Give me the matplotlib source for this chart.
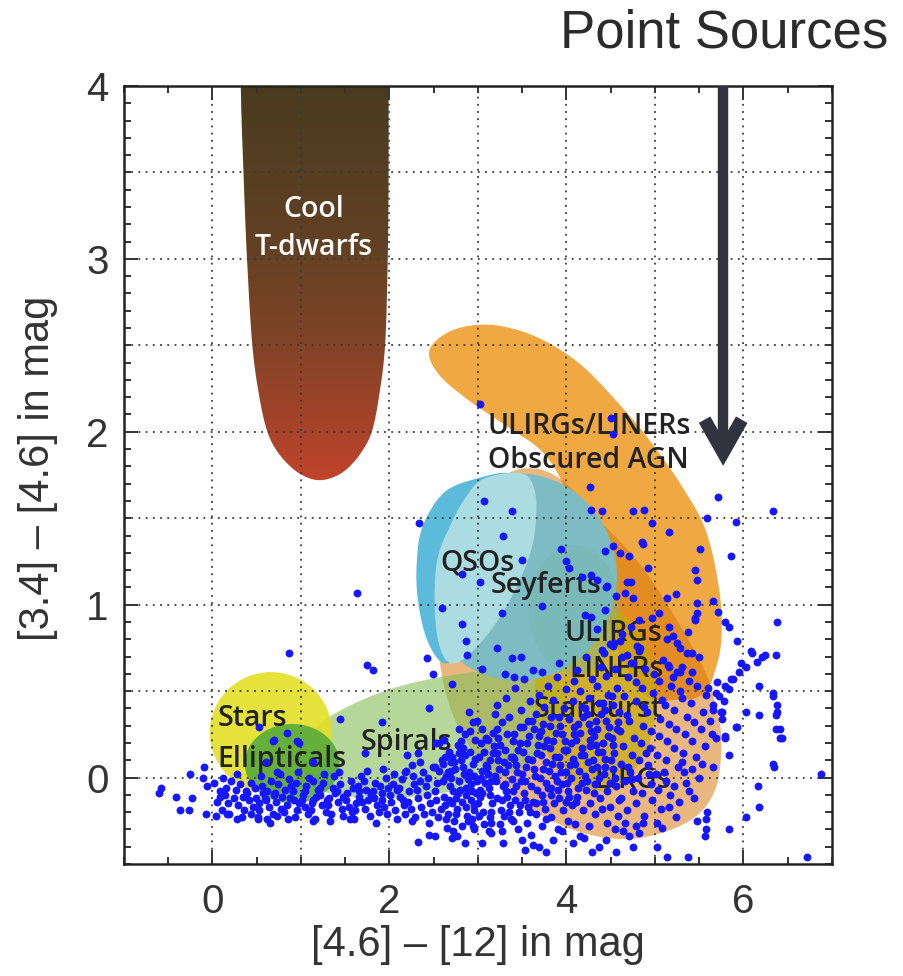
import numpy as np
import matplotlib
matplotlib.use("Agg")
import matplotlib.pyplot as plt
from matplotlib.patches import Ellipse, Polygon
from matplotlib.colors import LinearSegmentedColormap
from matplotlib.ticker import MultipleLocator

# ---- region outlines (data coords) ----
band_x = [2.45, 2.68, 3.05, 3.44, 3.81, 4.18, 4.56, 4.94, 5.31, 5.58, 5.73, 5.75, 5.68, 5.56, 5.28, 4.82, 4.37, 4.03, 3.75, 3.36, 2.90, 2.56]
band_y = [2.47, 2.58, 2.62, 2.59, 2.51, 2.38, 2.18, 1.95, 1.68, 1.42, 1.07, 0.80, 0.62, 0.49, 0.45, 0.51, 1.03, 1.61, 1.87, 2.02, 2.18, 2.33]

tan_x = [3.95, 4.37, 4.82, 5.20, 5.54, 5.67, 5.75, 5.68, 5.39, 4.82, 4.26, 3.69, 3.19, 2.79, 2.60, 2.54, 2.62, 2.85, 3.24, 3.58]
tan_y = [1.72, 1.49, 1.24, 0.95, 0.64, 0.45, 0.22, -0.07, -0.25, -0.35, -0.33, -0.21, -0.01, 0.28, 0.57, 0.91, 1.26, 1.55, 1.73, 1.79]

spiral_x = [0.98, 1.15, 1.49, 2.00, 2.56, 3.13, 3.58, 3.86, 3.98, 3.86, 3.47, 2.79, 2.00, 1.32, 1.04]
spiral_y = [0.10, 0.28, 0.40, 0.51, 0.58, 0.62, 0.64, 0.58, 0.45, 0.22, 0.05, -0.07, -0.12, -0.09, -0.01]

qso_x = [2.62, 2.99, 3.36, 3.53, 3.47, 3.24, 2.90, 2.63, 2.43, 2.32, 2.31, 2.38]
qso_y = [1.65, 1.73, 1.76, 1.66, 1.38, 1.03, 0.77, 0.66, 0.79, 1.03, 1.26, 1.46]

lens_x = [3.07, 3.49, 3.64, 3.65, 3.56, 3.30, 2.96, 2.70, 2.56, 2.51, 2.54, 2.68, 2.86]
lens_y = [1.73, 1.76, 1.66, 1.46, 1.25, 0.97, 0.74, 0.66, 0.77, 1.00, 1.26, 1.45, 1.62]

tdw_x = [0.32, 0.35, 0.39, 0.45, 0.53, 0.62, 0.74, 0.90, 1.05, 1.21, 1.38, 1.53, 1.68, 1.80, 1.88, 1.95, 1.98, 1.99, 1.99, 1.99, 0.32]
tdw_y = [4.00, 3.50, 3.00, 2.50, 2.20, 2.00, 1.88, 1.79, 1.74, 1.72, 1.74, 1.79, 1.88, 2.00, 2.20, 2.50, 3.00, 3.50, 4.00, 4.60, 4.60]

# ---- labels ----
labels = [("ULIRGs/LINERs", 3.11, 1.99), ("Obscured AGN", 3.11, 1.79),
          ("QSOs", 2.58, 1.20), ("Seyferts", 3.14, 1.07),
          ("ULIRGs", 3.98, 0.79), ("LINERs", 4.03, 0.58),
          ("Starburst", 3.63, 0.35), ("LIRGs", 4.31, -0.06),
          ("Spirals", 1.67, 0.16), ("Stars", 0.06, 0.30),
          ("Ellipticals", 0.05, 0.06)]

# ---- point sources ----
left_tail = [(-0.60, -0.09), (-0.58, -0.06), (-0.41, -0.11), (-0.37, -0.19), (-0.26, -0.19), (-0.23, -0.12),
             (-0.25, 0.02), (-0.10, 0.06), (-0.11, 0.00), (-0.07, -0.21), (-0.06, -0.05)]

band_pts = [
    (0.02, -0.03), (0.05, -0.14), (0.08, -0.08), (0.11, -0.19), (0.04, -0.22), (0.12, 0.0), (0.09, -0.11),
    (0.15, -0.06), (0.18, -0.15), (0.21, -0.02), (0.14, -0.10), (0.24, -0.12), (0.19, -0.21), (0.26, -0.07),
    (0.29, -0.16), (0.31, -0.04), (0.34, -0.11), (0.36, -0.19), (0.28, 0.02), (0.38, -0.08), (0.33, -0.23),
    (0.41, -0.13), (0.43, -0.03), (0.46, -0.17), (0.39, -0.09), (0.48, -0.06), (0.44, -0.21), (0.49, -0.12),
    (0.52, -0.15), (0.55, 0.01), (0.57, -0.09), (0.53, -0.19), (0.59, -0.12), (0.56, -0.05), (0.51, -0.24),
    (0.62, -0.08), (0.64, -0.17), (0.66, -0.02), (0.61, -0.13), (0.68, -0.21), (0.69, -0.10), (0.65, -0.26),
    (0.72, -0.14), (0.74, -0.04), (0.77, -0.18), (0.71, -0.09), (0.79, -0.11), (0.76, 0.02), (0.73, -0.22),
    (0.82, -0.07), (0.84, -0.16), (0.86, -0.01), (0.81, -0.20), (0.88, -0.12), (0.89, -0.05), (0.85, -0.24),
    (0.92, -0.13), (0.94, -0.03), (0.96, -0.19), (0.91, -0.08), (0.98, -0.15), (0.97, 0.03), (0.93, -0.23),
    (1.02, -0.10), (1.04, -0.17), (1.06, -0.05), (1.01, -0.13), (1.08, -0.21), (1.09, 0.0), (1.05, -0.08),
    (1.12, -0.15), (1.14, -0.02), (1.17, -0.11), (1.11, -0.19), (1.19, -0.07), (1.16, -0.24), (1.13, -0.13),
    (1.22, -0.06), (1.24, -0.16), (1.26, 0.02), (1.21, -0.10), (1.28, -0.20), (1.29, -0.13), (1.25, -0.03),
    (1.32, -0.12), (1.34, -0.21), (1.36, -0.06), (1.31, -0.16), (1.38, -0.09), (1.37, 0.01), (1.33, -0.25),
    (1.42, -0.14), (1.44, -0.04), (1.46, -0.18), (1.41, -0.08), (1.48, -0.11), (1.47, -0.22), (1.43, 0.03),
    (1.52, -0.09), (1.54, -0.17), (1.56, -0.02), (1.51, -0.13), (1.58, -0.20), (1.59, -0.06), (1.55, -0.24),
    (1.62, -0.15), (1.64, -0.05), (1.66, -0.11), (1.61, -0.19), (1.68, 0.01), (1.69, -0.14), (1.65, -0.08),
    (1.72, -0.18), (1.74, -0.07), (1.76, -0.13), (1.71, -0.02), (1.78, -0.22), (1.79, -0.10), (1.75, 0.04),
    (1.82, -0.12), (1.84, -0.03), (1.86, -0.16), (1.81, -0.08), (1.88, -0.20), (1.89, -0.05), (1.85, -0.26),
    (1.92, -0.09), (1.94, -0.17), (1.96, 0.0), (1.91, -0.13), (1.98, -0.06), (1.97, -0.21), (1.93, 0.05),
    (2.02, -0.14), (2.04, -0.04), (2.06, -0.19), (2.01, -0.10), (2.08, -0.07), (2.09, -0.24), (2.05, 0.02),
    (2.12, -0.11), (2.14, -0.01), (2.16, -0.16), (2.11, -0.06), (2.18, -0.21), (2.19, 0.04), (2.15, -0.13),
    (2.22, -0.08), (2.24, -0.18), (2.26, 0.01), (2.21, -0.14), (2.28, -0.04), (2.29, -0.23), (2.25, 0.07),
    (2.32, -0.12), (2.34, -0.02), (2.36, -0.17), (2.31, -0.07), (2.38, 0.03), (2.39, -0.21), (2.35, 0.09),
    (2.42, -0.10), (2.44, 0.0), (2.46, -0.15), (2.41, -0.05), (2.48, -0.20), (2.49, 0.06), (2.45, -0.26),
    (2.52, -0.13), (2.54, -0.03), (2.56, 0.04), (2.51, -0.08), (2.58, -0.18), (2.59, 0.10), (2.55, -0.23)]

cloud_pts = [
    (2.62, -0.11), (2.64, 0.01), (2.66, -0.21), (2.61, 0.08), (2.68, -0.05), (2.63, -0.16), (2.67, 0.15), (2.65, -0.29), (2.69, 0.04), (2.62, 0.22),
    (2.72, -0.08), (2.74, 0.05), (2.76, -0.18), (2.71, 0.12), (2.78, -0.02), (2.73, -0.25), (2.77, 0.19), (2.75, -0.12), (2.79, 0.28), (2.72, -0.31),
    (2.82, -0.14), (2.84, 0.02), (2.86, -0.06), (2.81, 0.10), (2.88, -0.22), (2.83, 0.17), (2.87, -0.10), (2.85, 0.25), (2.89, -0.01), (2.82, -0.28),
    (2.92, -0.04), (2.94, 0.08), (2.96, -0.16), (2.91, 0.15), (2.98, -0.09), (2.93, -0.24), (2.97, 0.22), (2.95, 0.01), (2.99, 0.33), (2.92, -0.13),
    (3.02, -0.11), (3.04, 0.04), (3.06, -0.20), (3.01, 0.12), (3.08, -0.03), (3.03, 0.20), (3.07, -0.27), (3.05, 0.28), (3.09, 0.07), (3.02, -0.07),
    (3.12, -0.06), (3.14, 0.10), (3.16, -0.15), (3.11, 0.02), (3.18, 0.18), (3.13, -0.23), (3.17, 0.26), (3.15, -0.02), (3.19, 0.37), (3.12, -0.31),
    (3.22, -0.12), (3.24, 0.05), (3.26, -0.19), (3.21, 0.14), (3.28, -0.05), (3.23, 0.23), (3.27, 0.32), (3.25, -0.27), (3.29, 0.09), (3.22, 0.42),
    (3.32, -0.08), (3.34, 0.07), (3.36, -0.16), (3.31, 0.16), (3.38, -0.01), (3.33, 0.25), (3.37, -0.24), (3.35, 0.35), (3.39, 0.12), (3.32, 0.46),
    (3.42, -0.13), (3.44, 0.03), (3.46, -0.20), (3.41, 0.11), (3.48, 0.20), (3.43, -0.05), (3.47, 0.29), (3.45, -0.30), (3.49, 0.39), (3.42, 0.52),
    (3.52, -0.09), (3.54, 0.06), (3.56, -0.17), (3.51, 0.15), (3.58, 0.24), (3.53, -0.02), (3.57, 0.33), (3.55, -0.26), (3.59, 0.44), (3.52, 0.57),
    (3.62, -0.14), (3.64, 0.01), (3.66, -0.21), (3.61, 0.10), (3.68, 0.19), (3.63, 0.28), (3.67, -0.07), (3.65, 0.37), (3.69, 0.48), (3.62, 0.62),
    (3.72, -0.10), (3.74, 0.05), (3.76, -0.18), (3.71, 0.13), (3.78, 0.22), (3.73, 0.31), (3.77, -0.03), (3.75, 0.41), (3.79, 0.53), (3.72, -0.28),
    (3.82, -0.06), (3.84, 0.08), (3.86, -0.15), (3.81, 0.17), (3.88, 0.26), (3.83, 0.35), (3.87, 0.01), (3.85, 0.45), (3.89, 0.58), (3.82, -0.23),
    (3.92, -0.12), (3.94, 0.03), (3.96, -0.19), (3.91, 0.12), (3.98, 0.21), (3.93, 0.30), (3.97, 0.40), (3.95, -0.04), (3.99, 0.51), (3.92, 0.66),
    (4.02, -0.08), (4.04, 0.07), (4.06, -0.16), (4.01, 0.16), (4.08, 0.25), (4.03, 0.34), (4.07, 0.44), (4.05, 0.00), (4.09, 0.56), (4.02, -0.25),
    (4.12, -0.11), (4.14, 0.04), (4.16, 0.13), (4.11, 0.22), (4.18, -0.03), (4.13, 0.31), (4.17, 0.41), (4.15, 0.50), (4.19, -0.19), (4.12, 0.62),
    (4.22, -0.07), (4.24, 0.09), (4.26, 0.18), (4.21, 0.01), (4.28, 0.27), (4.23, 0.37), (4.27, -0.15), (4.25, 0.46), (4.29, 0.57), (4.22, 0.70),
    (4.32, -0.04), (4.34, 0.06), (4.36, 0.15), (4.31, 0.24), (4.38, -0.12), (4.33, 0.33), (4.37, 0.43), (4.35, 0.53), (4.39, 0.64), (4.32, -0.21),
    (4.42, 0.02), (4.44, 0.11), (4.46, -0.08), (4.41, 0.20), (4.48, 0.29), (4.43, 0.39), (4.47, 0.48), (4.45, 0.59), (4.49, -0.17), (4.42, 0.72),
    (4.52, 0.05), (4.54, 0.14), (4.56, -0.05), (4.51, 0.23), (4.58, 0.32), (4.53, 0.42), (4.57, 0.52), (4.55, 0.63), (4.59, -0.13), (4.52, 0.76),
    (4.62, 0.08), (4.64, 0.18), (4.66, -0.02), (4.61, 0.27), (4.68, 0.36), (4.65, 0.47), (4.69, 0.58), (4.63, 0.70),
    (4.72, 0.03), (4.74, 0.13), (4.76, 0.23), (4.71, 0.33), (4.78, 0.44), (4.75, -0.08), (4.79, 0.55), (4.73, 0.66),
    (4.82, 0.10), (4.84, 0.20), (4.86, 0.30), (4.81, 0.00), (4.88, 0.41), (4.85, 0.52), (4.89, 0.63), (4.83, 0.75),
    (4.92, 0.07), (4.94, 0.17), (4.96, 0.27), (4.91, 0.38), (4.98, 0.49), (4.95, -0.04), (4.99, 0.60),
    (5.02, 0.13), (5.04, 0.24), (5.06, 0.34), (5.01, 0.02), (5.08, 0.45), (5.05, 0.56), (5.09, 0.68),
    (5.12, 0.10), (5.14, 0.21), (5.16, 0.31), (5.11, 0.42), (5.18, 0.53), (5.15, 0.65),
    (5.22, 0.17), (5.24, 0.28), (5.26, 0.06), (5.21, 0.39), (5.28, 0.50), (5.25, 0.61),
    (5.32, 0.14), (5.34, 0.25), (5.36, 0.35), (5.31, 0.46), (5.38, 0.56),
    (5.42, 0.21), (5.44, 0.32), (5.46, 0.12), (5.41, 0.43), (5.48, 0.53),
    (5.52, 0.28), (5.54, 0.38), (5.56, 0.18), (5.58, 0.48), (5.62, 0.33), (5.66, 0.42), (5.64, 0.25)]

core_pts = [
    (2.60, -0.02), (2.63, 0.12), (2.67, -0.13), (2.64, -0.24), (2.69, 0.09), (2.66, 0.03),
    (2.70, 0.00), (2.73, 0.09), (2.77, -0.09), (2.75, -0.21), (2.79, 0.14), (2.71, -0.15),
    (2.80, -0.07), (2.83, 0.06), (2.87, -0.17), (2.85, 0.13), (2.89, -0.25), (2.81, 0.21),
    (2.90, 0.03), (2.93, -0.08), (2.97, 0.11), (2.95, -0.19), (2.99, -0.02), (2.91, 0.27),
    (3.00, -0.15), (3.03, 0.00), (3.07, 0.15), (3.05, -0.09), (3.09, 0.23), (3.01, -0.22),
    (3.10, 0.06), (3.13, -0.10), (3.17, 0.14), (3.15, -0.20), (3.19, 0.01), (3.11, 0.22),
    (3.20, -0.02), (3.23, 0.10), (3.27, -0.13), (3.25, 0.19), (3.29, -0.22), (3.21, 0.28),
    (3.30, 0.03), (3.33, -0.11), (3.37, 0.12), (3.35, -0.20), (3.39, 0.21), (3.31, -0.04),
    (3.40, -0.08), (3.43, 0.07), (3.47, -0.16), (3.45, 0.16), (3.49, -0.02), (3.41, 0.25),
    (3.50, 0.02), (3.53, -0.13), (3.57, 0.11), (3.55, 0.20), (3.59, -0.20), (3.51, 0.29),
    (3.60, -0.05), (3.63, 0.05), (3.67, 0.14), (3.65, -0.15), (3.69, 0.24), (3.61, 0.33),
    (3.70, 0.00), (3.73, -0.14), (3.77, 0.09), (3.75, 0.18), (3.79, -0.06), (3.71, 0.27),
    (3.80, 0.04), (3.83, -0.10), (3.87, 0.12), (3.85, 0.21), (3.89, -0.02), (3.81, 0.30),
    (3.90, -0.07), (3.93, 0.07), (3.97, 0.16), (3.95, 0.25), (3.99, -0.14), (3.91, 0.35),
    (4.00, 0.03), (4.03, -0.11), (4.07, 0.11), (4.05, 0.20), (4.09, 0.29), (4.01, -0.03),
    (4.10, 0.08), (4.13, -0.06), (4.17, 0.17), (4.15, 0.26), (4.19, 0.35), (4.11, -0.14),
    (4.20, 0.13), (4.23, -0.02), (4.27, 0.22), (4.25, 0.31), (4.29, 0.05), (4.21, 0.40),
    (4.30, 0.10), (4.33, 0.19), (4.37, 0.00), (4.35, 0.28), (4.39, 0.37), (4.31, -0.09),
    (4.40, 0.15), (4.43, 0.06), (4.47, 0.24), (4.45, 0.33), (4.49, -0.03), (4.41, 0.43),
    (4.50, 0.10), (4.53, 0.19), (4.57, 0.28), (4.55, 0.00), (4.59, 0.38), (4.51, 0.47)]

lirg_pts = [
    (4.62, -0.12), (4.68, -0.19), (4.74, -0.01), (4.78, -0.15), (4.85, -0.09), (4.88, -0.22), (4.93, 0.02),
    (4.97, -0.13), (5.03, -0.07), (5.07, -0.18), (5.12, -0.02), (5.17, -0.10), (5.22, -0.05), (5.27, -0.14),
    (5.33, 0.03), (5.38, -0.08), (5.44, -0.12), (5.50, 0.00), (5.53, 0.08), (4.70, 0.06), (4.90, 0.14),
    (5.10, 0.03), (5.30, 0.09), (5.35, -0.03), (4.64, -0.31), (4.86, -0.26), (5.08, -0.29), (4.58, -0.22),
    (4.46, -0.26), (4.40, -0.18), (4.25, -0.28), (4.10, -0.27), (3.90, -0.30), (3.60, -0.33), (3.40, -0.25),
    (3.15, -0.26), (2.95, -0.30), (3.85, -0.36), (4.20, -0.35), (4.55, -0.30)]

outlier_pts = [
    (2.33, 1.47), (1.63, 1.07), (0.87, 0.72), (1.75, 0.65), (1.81, 0.62), (2.59, 0.98), (2.82, 1.18), (2.82, 0.89),
    (2.87, 0.79), (2.88, 0.71), (2.42, 0.69), (2.49, 0.60), (2.71, 0.54), (2.45, 0.40), (1.91, 0.32), (1.44, 0.34),
    (0.53, 0.29), (0.70, 0.22), (0.84, 0.26), (0.98, 0.20), (0.61, 0.09), (1.13, 0.09), (1.72, 0.14), (2.56, 0.20),
    (2.79, 0.18), (2.90, 0.38), (2.94, 0.32), (0.68, 0.21), (0.96, 0.21), (0.73, 0.03), (2.20, 0.13), (2.32, 0.14),
    (2.53, 0.20), (2.51, 0.06), (2.17, 0.03),
    (0.28, -0.24), (0.51, -0.23), (0.62, -0.24), (1.13, -0.25), (2.32, -0.37), (2.45, -0.33), (2.51, -0.34),
    (2.71, -0.35), (0.16, -0.21), (1.60, -0.24), (2.25, -0.25),
    (2.76, -0.34), (2.85, -0.38), (2.94, -0.28), (3.05, -0.38), (3.15, -0.32), (3.27, -0.31), (3.28, -0.38),
    (3.50, -0.36), (3.53, -0.42), (3.62, -0.39), (3.69, -0.40), (3.77, -0.43), (3.77, -0.24), (3.95, -0.31),
    (4.07, -0.38), (4.15, -0.34), (4.29, -0.43), (4.37, -0.40), (4.45, -0.36), (4.56, -0.43), (4.71, -0.34),
    (4.75, -0.40), (4.66, -0.26), (4.79, -0.28), (4.82, -0.32), (5.02, -0.40), (5.13, -0.46), (5.02, -0.26),
    (5.16, -0.17), (5.24, -0.23), (5.37, -0.46), (5.48, -0.25), (5.58, -0.24), (5.58, -0.30), (5.56, -0.34),
    (5.59, -0.20), (5.84, -0.30), (6.03, -0.23), (6.18, -0.17), (6.16, -0.05), (6.33, 0.08), (6.88, 0.02),
    (6.72, -0.46),
    (5.84, 0.13), (5.65, 0.06), (5.93, 0.29), (6.18, 0.36), (6.37, 0.36), (6.37, 0.28), (6.41, 0.23), (6.38, 0.42),
    (6.18, 0.53), (6.33, 0.49), (6.03, 0.38), (5.79, 0.23), (5.69, 0.23), (5.76, 0.34), (5.75, 0.38), (5.42, 0.05),
    (5.71, 1.62), (6.33, 1.54), (5.92, 1.48), (5.86, 1.28), (5.51, 1.32), (5.45, 1.20), (5.16, 1.42), (4.26, 1.68),
    (4.40, 1.54), (4.28, 1.55), (4.75, 1.54), (4.88, 1.55), (4.97, 1.47), (3.07, 1.60), (3.38, 1.54), (3.28, 1.40),
    (3.50, 1.26), (4.52, 1.34), (4.60, 1.30), (4.85, 1.36), (4.87, 1.35), (4.71, 1.28), (4.92, 1.21), (3.94, 1.32),
    (4.00, 1.25), (4.03, 1.21), (4.28, 1.17), (4.34, 1.14), (4.73, 1.13), (4.45, 1.10), (5.47, 1.14), (6.38, 0.90),
    (6.10, 0.72), (6.24, 0.71), (6.37, 0.71), (6.15, 0.67), (5.93, 0.79), (5.79, 0.90), (5.84, 0.87), (5.71, 0.96),
    (5.65, 1.02), (5.47, 1.01), (5.47, 0.95), (5.45, 0.92), (5.13, 1.04), (5.24, 1.06), (5.05, 0.95), (4.97, 0.92),
    (4.82, 0.91), (4.73, 0.87), (4.63, 0.83), (5.16, 0.87), (5.20, 0.82), (5.13, 0.80), (5.25, 0.78), (5.36, 0.72),
    (5.42, 0.72), (5.50, 0.70), (5.31, 0.64), (5.42, 0.61), (5.69, 0.49), (5.79, 0.53), (5.88, 0.57), (5.95, 0.61),
    (6.03, 0.64), (6.33, 0.47), (6.38, 0.38), (6.41, 0.28), (6.43, 0.23), (6.35, 0.06), (5.76, 0.38), (5.79, 0.24),
    (5.92, 0.29),
    (3.02, 1.13), (3.27, 0.95), (3.72, 0.99), (3.21, 0.75), (3.38, 0.69), (3.49, 0.70), (3.04, 0.63), (3.30, 0.60),
    (3.41, 0.58), (3.72, 0.61), (4.18, 1.16), (4.46, 1.11), (4.44, 1.31), (4.68, 1.13), (4.66, 1.07), (4.75, 1.04),
    (4.56, 1.05), (4.21, 0.94), (4.28, 0.93), (4.43, 0.97), (4.34, 0.86), (4.40, 0.74), (4.49, 0.77), (4.54, 0.78),
    (4.60, 0.79), (4.80, 0.76), (4.82, 0.73), (4.68, 0.71), (4.75, 0.66), (5.28, 0.75), (5.37, 0.84), (5.45, 0.91),
    (5.16, 0.64), (5.28, 0.61), (5.20, 0.58), (5.86, 0.57), (6.09, 0.73), (6.21, 0.70), (5.59, 1.50), (5.60, 0.52),
    (5.70, 0.55), (5.72, 0.47), (5.84, 0.51), (5.97, 0.66), (5.78, 0.44), (5.66, 0.39),
    (3.02, 2.16), (4.50, 2.08), (4.52, 1.99)]


def smooth(xs, ys, n=24):
    # closed Catmull-Rom curve through the outline points
    P = np.column_stack([xs, ys])
    m = len(P)
    t = np.linspace(0, 1, n, endpoint=False)[:, None]
    out = []
    for i in range(m):
        p0, p1, p2, p3 = P[i - 1], P[i], P[(i + 1) % m], P[(i + 2) % m]
        out.append(0.5 * (2 * p1 + (-p0 + p2) * t + (2 * p0 - 5 * p1 + 4 * p2 - p3) * t ** 2
                          + (-p0 + 3 * p1 - 3 * p2 + p3) * t ** 3))
    return np.vstack(out)


fig = plt.figure(figsize=(9.04, 9.76), dpi=100)
ax = fig.add_axes([124 / 904, 112 / 976, 708 / 904, 778 / 976])


def region(xs, ys, color, alpha=1.0):
    p = Polygon(smooth(xs, ys), closed=True, facecolor=color, edgecolor='none', alpha=alpha, zorder=1)
    ax.add_patch(p)
    return p


region(band_x, band_y, '#f0a843')
region(tan_x, tan_y, '#d77100', 0.5)
region(spiral_x, spiral_y, '#84be57', 0.6)
ax.add_patch(Ellipse((4.33, 0.46), 1.38, 1.08, facecolor='#c7ac03', alpha=0.7, edgecolor='none', zorder=1))
ax.add_patch(Ellipse((3.45, 1.16), 2.24, 1.20, facecolor='#7dbcc2', edgecolor='none', zorder=1))
ax.add_patch(Ellipse((4.09, 0.97), 1.02, 0.75, facecolor='#72b8a8', alpha=0.35, edgecolor='none', zorder=1))
region(qso_x, qso_y, '#5cbadb')
region(lens_x, lens_y, '#aadce1')
ax.add_patch(Ellipse((0.66, 0.26), 1.38, 0.70, facecolor='#e3df26', alpha=0.9, edgecolor='none', zorder=1))
ax.add_patch(Ellipse((0.90, 0.08), 1.07, 0.46, facecolor='#4fa83a', alpha=0.85, edgecolor='none', zorder=1))

# cool T-dwarfs: vertical colour ramp clipped to the outline
tcm = LinearSegmentedColormap.from_list('tdw', [(0, '#c4432b'), (0.13, '#a8432a'), (0.35, '#824427'),
                                                (0.57, '#654124'), (0.8, '#553e21'), (1, '#4a3b1f')])
grad = np.linspace(0, 1, 256).reshape(-1, 1)
im = ax.imshow(grad, cmap=tcm, origin='lower', extent=[0.25, 2.05, 1.70, 4.0], aspect='auto', zorder=1)
tpoly = Polygon(smooth(tdw_x, tdw_y), closed=True, facecolor='none', edgecolor='none')
ax.add_patch(tpoly)
im.set_clip_path(tpoly)

# dotted grid
for gx in range(0, 7):
    ax.axvline(gx, color='#3a3a3a', lw=1.3, ls=(0, (1, 3)), zorder=2)
for gy in np.arange(0, 4, 0.5):
    ax.axhline(gy, color='#3a3a3a', lw=1.3, ls=(0, (1, 3)), zorder=2)

lab_font = ['Open Sans', 'DejaVu Sans']
for txt, lx, ly in labels:
    ax.text(lx, ly, txt, fontsize=20.5, family=lab_font, fontweight='semibold', color='#222222',
            ha='left', va='baseline', zorder=3)
ax.text(1.14, 3.24, "Cool", fontsize=20.5, family=lab_font, fontweight='semibold', color='white',
        ha='center', va='baseline', zorder=3)
ax.text(1.14, 3.02, "T-dwarfs", fontsize=20.5, family=lab_font, fontweight='semibold', color='white',
        ha='center', va='baseline', zorder=3)

pts = left_tail + band_pts + cloud_pts + core_pts + lirg_pts + outlier_pts
ax.scatter([p[0] for p in pts], [p[1] for p in pts], s=32, c='#1616ff', linewidths=0, zorder=4)

# point-sources arrow
ax.plot([5.77, 5.77], [4.0, 1.90], color='#31333e', lw=7.5, solid_capstyle='butt', zorder=6)
ax.plot([5.56, 5.77, 5.98], [2.07, 1.88, 2.07], color='#31333e', lw=9.5,
        solid_joinstyle='miter', solid_capstyle='butt', zorder=6)

ax.set_xlim(-1, 7)
ax.set_ylim(-0.5, 4)
ax.xaxis.set_major_locator(MultipleLocator(2))
ax.xaxis.set_minor_locator(MultipleLocator(0.5))
ax.yaxis.set_major_locator(MultipleLocator(1))
ax.yaxis.set_minor_locator(MultipleLocator(0.1))
ax.tick_params(which='both', direction='in', top=True, right=True, color='#333333', width=1.4)
ax.tick_params(which='major', length=10, labelsize=29, labelcolor='#333333')
ax.tick_params(axis='x', which='major', pad=14)
ax.tick_params(axis='y', which='major', pad=11)
ax.tick_params(which='minor', length=5)
for lab in ax.get_xticklabels() + ax.get_yticklabels():
    lab.set_family('Liberation Sans')
for sp in ax.spines.values():
    sp.set_linewidth(1.8)
    sp.set_color('#222222')

ax.set_xlabel("[4.6] – [12] in mag", fontsize=30, family='Liberation Sans', color='#333333')
ax.set_ylabel("[3.4] – [4.6] in mag", fontsize=30, family='Liberation Sans', color='#333333')
ax.xaxis.label.set_va('center')
ax.yaxis.label.set_va('center')
ax.xaxis.set_label_coords(0.5, (864 - 945) / 778)
ax.yaxis.set_label_coords((38 - 124) / 708, (864 - 468) / 778)

fig.text(888 / 904, 1 - 33 / 976, "Point Sources", fontsize=38, family='Liberation Sans',
         color='#2b2b2b', ha='right', va='center')

fig.savefig("out.png", dpi=100)
